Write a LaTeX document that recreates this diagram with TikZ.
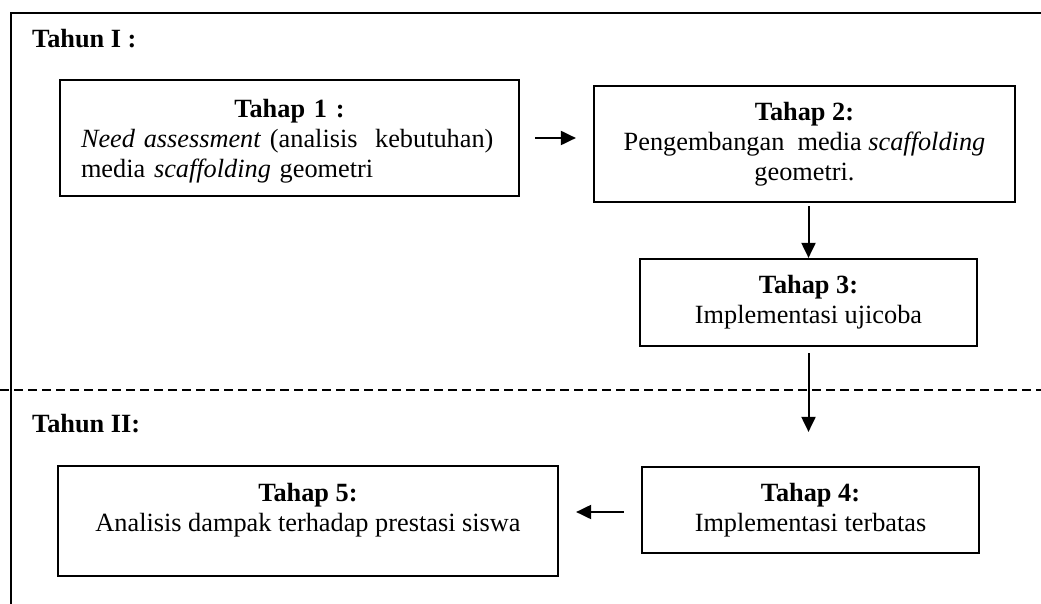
\documentclass[tikz,border=0pt]{standalone}
\usepackage{fontspec}
\setmainfont{Liberation Serif}
\usetikzlibrary{arrows.meta}
\begin{document}
\begin{tikzpicture}[x=1pt,y=-1pt,
  txt/.style={font=\fontsize{26.3}{30}\selectfont},
  stepbox/.style={txt, draw, line width=2.2pt, inner sep=0pt, align=center},
  heading/.style={txt, anchor=base west, inner sep=0pt, font=\fontsize{26.3}{30}\selectfont\bfseries},
  flow/.style={line width=2pt, -{Triangle[length=15pt,width=14pt]}},
  frame/.style={line width=2pt},
  yearsplit/.style={line width=1.5pt, dash pattern=on 9pt off 5pt}]
\useasboundingbox (0,0) rectangle (1041,604);

% outer frame and the split between the two years
\draw[frame] (1041,13) -- (11,13) -- (11,604);
\draw[yearsplit] (0,390) -- (1041,390);

% year headings
\node[heading] (y1) at (32,48) {Tahun I :};
\node[heading] (y2) at (32,432) {Tahun II:};

% stages
\node[stepbox, minimum width=459pt, minimum height=116pt, text width=417pt, align=left]
  (s1) at (289.5,138)
  {\makebox[\linewidth]{\rule{0pt}{24pt}\bfseries Tahap 1 :}\\
   \textit{Need assessment} (analisis\ \ kebutuhan)\\
   media \textit{scaffolding} geometri};
\node[stepbox, minimum width=421pt, minimum height=116pt] (s2) at (804.5,144)
  {\textbf{Tahap 2:}\\ Pengembangan\ \ media \textit{scaffolding}\\ geometri.};
\node[stepbox, minimum width=337pt, minimum height=87pt] (s3) at (808.5,302.5)
  {\textbf{Tahap 3:}\\ Implementasi ujicoba};
\node[stepbox, minimum width=337pt, minimum height=86pt] (s4) at (810.5,510)
  {\textbf{Tahap 4:}\\ Implementasi terbatas};
\node[stepbox, minimum width=500pt, minimum height=110pt] (s5) at (308,521)
  {\textbf{Tahap 5:}\\ Analisis dampak terhadap prestasi siswa\\[-12pt] \strut};

% flow between stages
\draw[flow] ([xshift=15pt]s1.east) -- ([xshift=-17pt]s1.east -| s2.west);
\draw[flow] ([yshift=-3pt]s2.south -| s3.north) -- (s3.north);
\draw[flow] ([yshift=-6pt]s3.south) -- ([yshift=34pt]s3.south |- s4.north);
\draw[flow] ([xshift=-17pt,yshift=-2pt]s4.west) -- ([xshift=17pt,yshift=-2pt]s4.west -| s5.east);
\end{tikzpicture}
\end{document}
